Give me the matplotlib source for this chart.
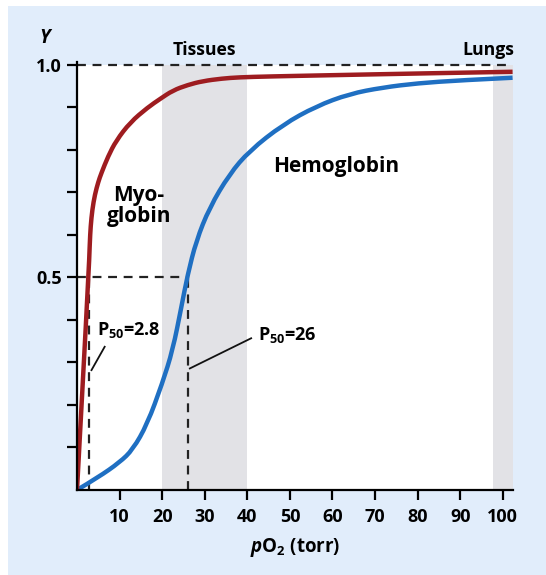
import numpy as np
import matplotlib.pyplot as plt
from matplotlib.patches import Rectangle, PathPatch
from matplotlib.path import Path

plt.rcParams['font.family'] = ['Open Sans', 'DejaVu Sans']
plt.rcParams['font.weight'] = 'bold'
plt.rcParams['mathtext.fontset'] = 'custom'
plt.rcParams['mathtext.rm'] = 'Open Sans:bold'
plt.rcParams['mathtext.bf'] = 'Open Sans:bold'
plt.rcParams['mathtext.it'] = 'Open Sans:italic:bold'

# curves (pO2 in torr, fractional saturation Y)
myo_p = [0, 2.7, 3.0, 3.2, 3.6, 4.2, 5.0, 5.7, 7.3, 9.2, 12.5, 16.6, 19.5,
         22.5, 26, 29.5, 34, 38, 45, 60, 80, 102.3]
myo_y = [0, 0.5, 0.58, 0.62, 0.66, 0.695, 0.725, 0.745, 0.785, 0.822, 0.865,
         0.90, 0.92, 0.94, 0.953, 0.962, 0.968, 0.971, 0.973, 0.976, 0.98, 0.984]

hb_p = [0, 5.0, 10.0, 13.1, 16.5, 20, 22.5, 24.5, 26, 28, 31.1, 35.8, 40.5,
        48.4, 56.2, 64, 71.8, 80, 90, 102.3]
hb_y = [0, 0.03, 0.065, 0.095, 0.155, 0.25, 0.33, 0.43, 0.507, 0.586, 0.664,
        0.743, 0.798, 0.86, 0.903, 0.932, 0.947, 0.957, 0.964, 0.97]

p50_myo = 2.8
p50_hb = 26
tissues = (20, 40)
lungs = (97.6, 102.4)
xticks = [10, 20, 30, 40, 50, 60, 70, 80, 90, 100]
yticks = [0.1, 0.2, 0.3, 0.4, 0.5, 0.6, 0.7, 0.8, 0.9, 1.0]
ylabels = ['', '', '', '', '0.5', '', '', '', '', '1.0']

bg = '#e1edfb'
red = '#9e1c20'
blue = '#1f6fc2'
grey = '#e2e2e6'


def smooth_path(xs, ys):
    # quadratic bezier through the midpoints, so the drawn line has no kinks
    pts = np.column_stack([xs, ys])
    verts = [pts[0]]
    codes = [Path.MOVETO]
    for i in range(1, len(pts) - 1):
        mid = (pts[i] + pts[i + 1]) / 2
        if i == len(pts) - 2:
            mid = pts[i + 1]
        verts += [pts[i], mid]
        codes += [Path.CURVE3, Path.CURVE3]
    return Path(verts, codes)


fig = plt.figure(figsize=(5.46, 5.75), dpi=100)
fig.patch.set_facecolor('white')
fig.patches.append(Rectangle((8 / 546, 0), 1, 1 - 6 / 575, transform=fig.transFigure,
                             facecolor=bg, edgecolor='none', zorder=-10))

ax = fig.add_axes([77 / 546, 1 - 490 / 575, (513 - 77) / 546, (490 - 62) / 575])
ax.set_facecolor('none')
ax.set_xlim(0, 102.4)
ax.set_ylim(0, 1.007)

ax.add_patch(Rectangle((0, 0), 102.4, 1.0, facecolor='white', edgecolor='none', zorder=0))
ax.add_patch(Rectangle((tissues[0], 0), tissues[1] - tissues[0], 1.0,
                       facecolor=grey, edgecolor='none', zorder=0.5))
ax.add_patch(Rectangle((lungs[0], 0), lungs[1] - lungs[0], 1.0,
                       facecolor=grey, edgecolor='none', zorder=0.5))

dash = dict(color='#222222', lw=1.6, ls=(0, (4, 3)), zorder=2)
ax.plot([0, 101], [1.0, 1.0], **dash)
ax.plot([0, p50_hb], [0.5, 0.5], **dash)
ax.plot([p50_myo, p50_myo], [0, 0.5], **dash)
ax.plot([p50_hb, p50_hb], [0, 0.5], **dash)

ax.add_patch(PathPatch(smooth_path(hb_p, hb_y), facecolor='none', edgecolor=blue,
                       lw=3.2, capstyle='butt', zorder=3))
ax.add_patch(PathPatch(smooth_path(myo_p, myo_y), facecolor='none', edgecolor=red,
                       lw=3.2, capstyle='butt', zorder=4))

for s in ['top', 'right']:
    ax.spines[s].set_visible(False)
for s in ['left', 'bottom']:
    ax.spines[s].set_linewidth(1.6)
    ax.spines[s].set_zorder(5)

ax.set_xticks(xticks)
ax.set_yticks(yticks)
ax.set_yticklabels(ylabels)
ax.tick_params(axis='both', direction='out', length=7, width=1.6, labelsize=13, pad=4)
ax.tick_params(axis='x', pad=6)
for lab in ax.get_xticklabels() + ax.get_yticklabels():
    lab.set_fontweight('bold')

ax.set_xlabel(r'$\it{p}$O$_2$ (torr)', fontsize=13.5, fontweight='bold', labelpad=7)
ax.text(-7.6, 1.064, 'Y', fontsize=13.5, fontweight='bold', style='italic',
        ha='center', va='center', clip_on=False)

ax.text(30, 1.035, 'Tissues', fontsize=12.7, fontweight='bold', ha='center', va='center')
ax.text(102.8, 1.035, 'Lungs', fontsize=12.7, fontweight='bold', ha='right', va='center')

ax.text(14.6, 0.668, 'Myo-\nglobin', fontsize=15, fontweight='bold', ha='center',
        va='center', linespacing=0.95)
ax.text(60.9, 0.76, 'Hemoglobin', fontsize=15, fontweight='bold', ha='center', va='center')

ax.text(4.6, 0.376, r'P$_{50}$=2.8', fontsize=13, fontweight='bold', ha='left', va='center')
ax.text(42.4, 0.365, r'P$_{50}$=26', fontsize=13, fontweight='bold', ha='left', va='center')
ax.plot([3.4, 6.5], [0.282, 0.337], color='#111111', lw=1.3, zorder=3)
ax.plot([26.5, 40.9], [0.286, 0.357], color='#111111', lw=1.3, zorder=3)

fig.savefig('out.png', dpi=100, facecolor=fig.get_facecolor())
